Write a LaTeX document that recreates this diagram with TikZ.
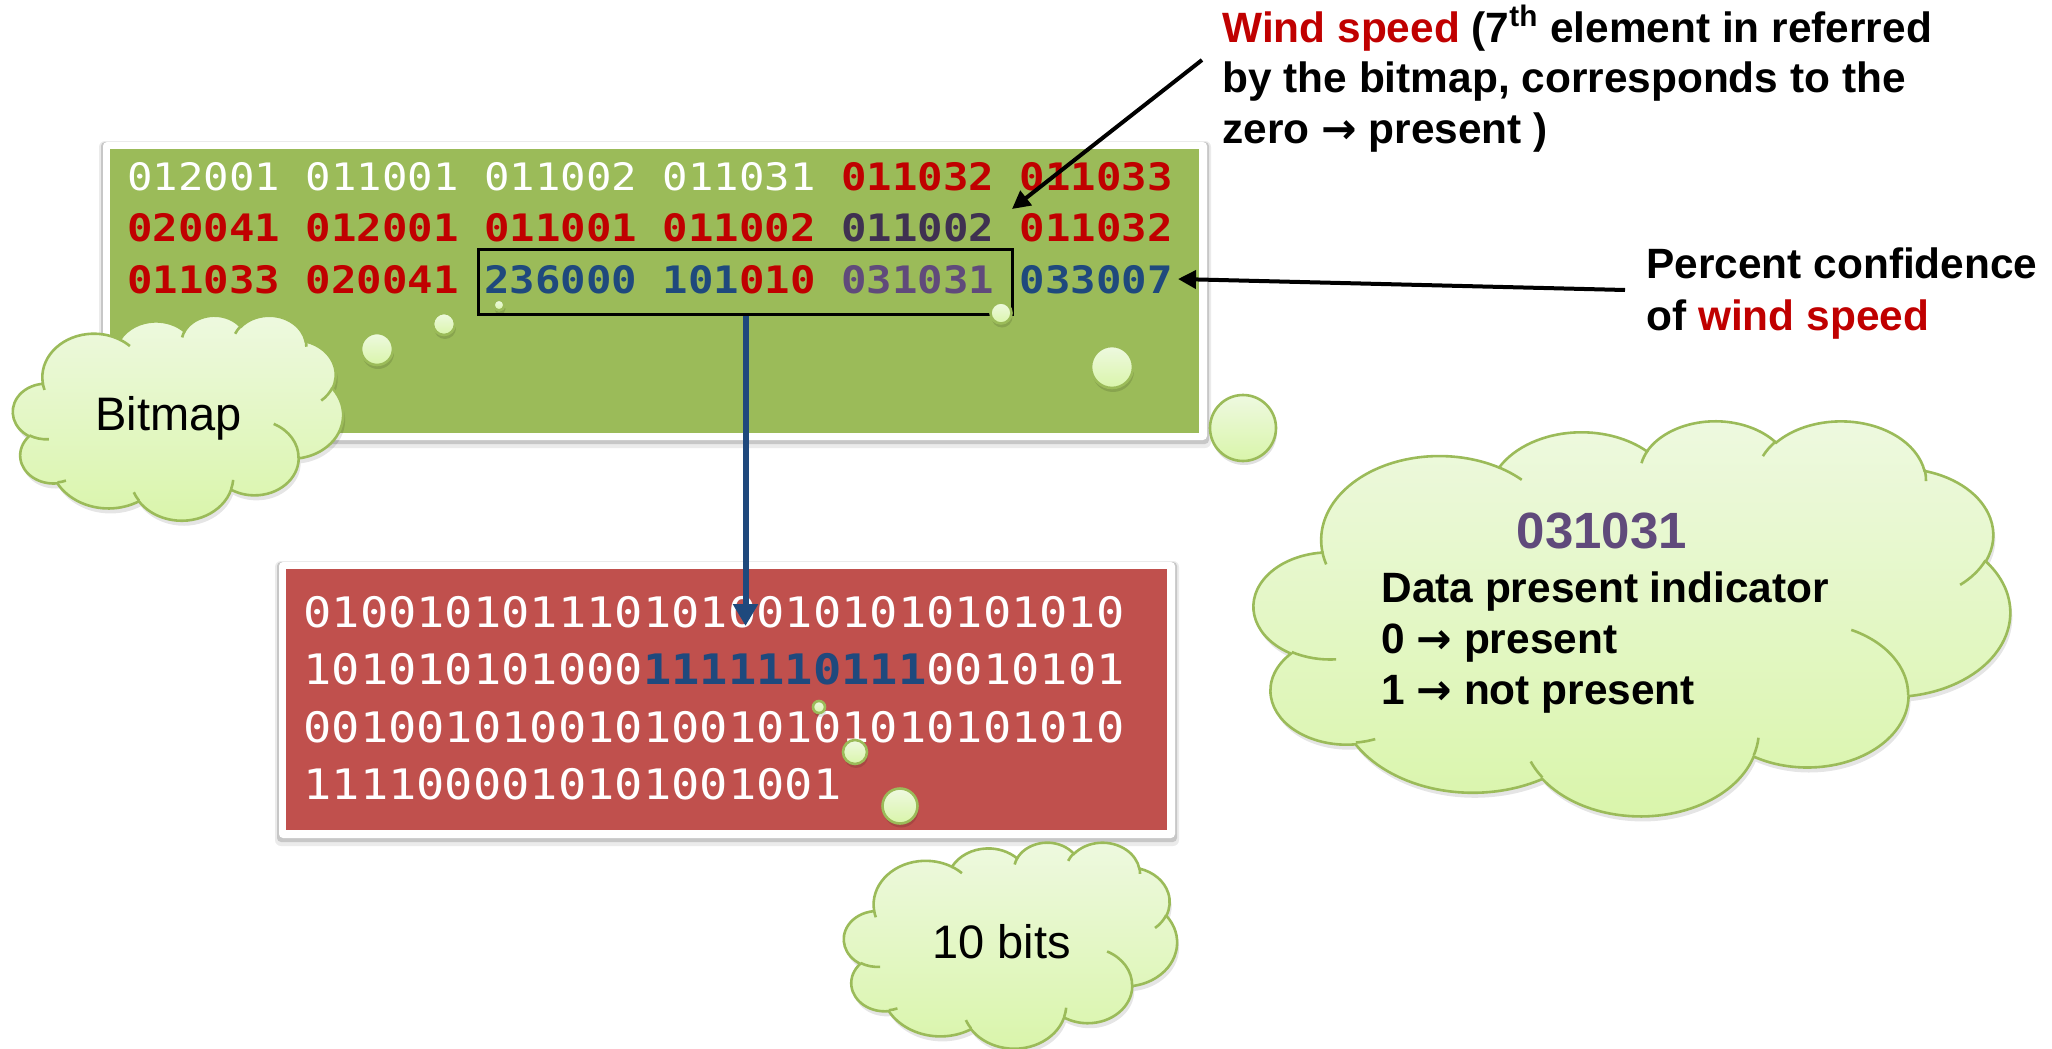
\documentclass[tikz,border=0pt]{standalone}
\usepackage{fontspec}
\setmainfont{Liberation Sans}
\newfontfamily\arrowfont{DejaVu Sans}
\newfontfamily\codefont[FakeStretch=1.12]{DejaVu Sans Mono}
\usetikzlibrary{arrows.meta}

\definecolor{boxgreen}{HTML}{9BBB59}
\definecolor{boxred}{HTML}{C0504D}
\definecolor{txtred}{HTML}{C00000}
\definecolor{txtblue}{HTML}{1F497D}
\definecolor{txtpurple}{HTML}{604A7B}
\definecolor{txtdark}{HTML}{3F3151}
\definecolor{cloudedge}{HTML}{9BBB59}
\definecolor{cloudtop}{HTML}{EEF9E0}
\definecolor{cloudbot}{HTML}{D9F5AA}

% elliptical arcs given by visual (ray) angles, converted to parametric ones
\tikzset{
  declare function={
    vis(\va,\vb,\vs)=atan2(\va*sin(\vs),\vb*cos(\vs));
    vdel(\va,\vb,\vs,\vw)=vis(\va,\vb,\vs+\vw)-vis(\va,\vb,\vs)
      -360*round((vis(\va,\vb,\vs+\vw)-vis(\va,\vb,\vs)-\vw)/360);
  },
  cloudbody/.style={top color=cloudtop, bottom color=cloudbot, draw=cloudedge, line width=1.3pt},
  cloudcrease/.style={draw=cloudedge, line width=1.3pt},
  gcode/.style={inner sep=0pt, anchor=base west, font=\codefont\fontsize{18.9}{22}\selectfont},
  rcode/.style={inner sep=0pt, anchor=base west, font=\codefont\fontsize{21}{24}\selectfont, text=white},
  lbl/.style={inner sep=0pt, anchor=base west, font=\fontsize{21.2}{25}\selectfont\bfseries},
  cloudlbl/.style={inner sep=0pt, anchor=base west, font=\fontsize{23.5}{28}\selectfont},
  blackarrow/.style={draw=black, line width=2pt, -{Triangle[length=9pt,width=9pt]}},
  bluearrow/.style={draw=txtblue, line width=3pt, -{Triangle[length=11pt,width=12pt]}},
}
\newcommand\carc[4]{arc[x radius=#1, y radius=#2, start angle={vis(#1,#2,#3)}, delta angle={vdel(#1,#2,#3,#4)}]}

% cloud outline in a 432 x 432 frame
\newcommand\cloudoutline{(39.00,143.70)
 \carc{67.53}{91.90}{-190.4875}{123.7805}
 \carc{53.33}{72.67}{-144.1024}{89.9452}
 \carc{43.65}{59.45}{-145.8079}{99.7230}
 \carc{48.57}{65.95}{-130.9861}{117.2417}
 \carc{53.33}{72.73}{-78.7089}{109.0269}
 \carc{67.75}{92.20}{-46.2673}{130.2690}
 \carc{57.85}{78.67}{0.6250}{114.0333}
 \carc{67.52}{92.15}{22.4516}{115.1726}
 \carc{77.20}{105.43}{66.2426}{75.7110}
 \carc{43.60}{59.18}{-274.9421}{146.7356}
 \carc{43.45}{59.45}{-246.8285}{152.5189}
 -- cycle}

% short inner creases of the cloud
\newcommand\cloudcreases{
 (46.93,261.77) \carc{43.45}{59.45}{86.7420}{26.4295}
 (69.28,348.99) \carc{43.60}{59.18}{73.6105}{11.4475}
 (164.78,390.90) \carc{67.52}{92.15}{137.6242}{14.0811}
 (288.27,347.51) \carc{67.52}{92.15}{6.4533}{15.9984}
 (341.29,229.54) \carc{57.85}{78.67}{-70.2924}{70.9174}
 (417.98,153.54) \carc{53.33}{72.73}{30.3180}{27.7515}
 (383.24,54.26) \carc{48.57}{65.95}{-13.7443}{14.8589}
 (290.78,39.52) \carc{48.57}{65.95}{-149.1815}{18.1954}
 (221.41,47.20) \carc{43.65}{59.45}{-163.4943}{17.6864}
 (140.00,51.92) \carc{67.53}{91.90}{-66.7070}{12.3194}
 (41.27,157.89) \carc{67.53}{91.90}{157.6544}{11.8582}
}

% #1 name, #2 left, #3 top, #4 width, #5 height
\newcommand\drawcloud[5]{%
  \begin{scope}[shift={(#2+2,#3+5)},xscale=#4/432,yscale=#5/432]
    \fill[black,opacity=0.10] \cloudoutline;
  \end{scope}
  \begin{scope}[shift={(#2,#3)},xscale=#4/432,yscale=#5/432]
    \path[cloudbody] \cloudoutline;
    \draw[cloudcrease] \cloudcreases;
  \end{scope}
  \coordinate (#1) at (#2+#4/2,#3+#5/2);
}

% small thought bubble: centre x, centre y, radius
\newcommand\bubble[3]{%
  \fill[black,opacity=0.12] (#1+1,#2+4) circle[radius=#3];
  \path[cloudbody] (#1,#2) circle[radius=#3];
}

\newcommand\toarrow{{\arrowfont\bfseries →}}

\begin{document}
\begin{tikzpicture}[x=0.5pt,y=-0.5pt]
\useasboundingbox (0,0) rectangle (2052,1049);
\fill[white] (0,0) rectangle (2052,1049);

% ---- descriptor list (green panel)
\fill[black,opacity=0.08,rounded corners=3pt] (99,141) rectangle (1211,448);
\fill[black,opacity=0.15,rounded corners=2pt] (101,142) rectangle (1209,444);
\fill[white,rounded corners=2pt] (103,142) rectangle (1207,440);
\fill[boxgreen] (110,149) rectangle (1199,433);

\node[gcode] (g11) at (127,190) {\color{white}012001};
\node[gcode] (g12) at (305.5,190) {\color{white}011001};
\node[gcode] (g13) at (484,190) {\color{white}011002};
\node[gcode] (g14) at (662.5,190) {\color{white}011031};
\node[gcode] (g15) at (841,190) {\bfseries\color{txtred}011032};
\node[gcode] (g16) at (1019.5,190) {\bfseries\color{txtred}011033};

\node[gcode] (g21) at (127,241) {\bfseries\color{txtred}020041};
\node[gcode] (g22) at (305.5,241) {\bfseries\color{txtred}012001};
\node[gcode] (g23) at (484,241) {\bfseries\color{txtred}011001};
\node[gcode] (g24) at (662.5,241) {\bfseries\color{txtred}011002};
\node[gcode] (g25) at (841,241) {\bfseries\color{txtdark}011002};
\node[gcode] (g26) at (1019.5,241) {\bfseries\color{txtred}011032};

\node[gcode] (g31) at (127,293) {\bfseries\color{txtred}011033};
\node[gcode] (g32) at (305.5,293) {\bfseries\color{txtred}020041};
\node[gcode] (g33) at (484,293) {\bfseries\color{txtblue}236000};
\node[gcode] (g34) at (662.5,293) {\bfseries\textcolor{txtblue}{101}\textcolor{txtred}{010}};
\node[gcode] (g35) at (841,293) {\bfseries\color{txtpurple}031031};
\node[gcode] (g36) at (1019.5,293) {\bfseries\color{txtblue}033007};

\node[draw=black, line width=1.5pt, inner sep=0pt, minimum width=267pt, minimum height=32.5pt, anchor=north west] (selbox) at (477,248) {};

% ---- bit stream (red panel)
\fill[black,opacity=0.08,rounded corners=3pt] (275,561) rectangle (1179,846);
\fill[black,opacity=0.15,rounded corners=2pt] (277,562) rectangle (1177,842);
\fill[white,rounded corners=2pt] (279,562) rectangle (1175,838);
\fill[boxred] (286,569) rectangle (1167,830);

\node[rcode] (r1) at (303,627) {01001010111010100101010101010};
\node[rcode] (r2) at (303,684) {101010101000{\bfseries\color{txtblue}1111110111}0010101};
\node[rcode] (r3) at (303,742) {00100101001010010101010101010};
\node[rcode] (r4) at (303,799) {1111000010101001001};

\coordinate (bittip) at (743,626);
\draw[bluearrow] (selbox.south) -- (selbox.south |- bittip);

% ---- side notes
\node[lbl] (w1) at (1222,42) {\textcolor{txtred}{Wind speed} (7\textsuperscript{th} element in referred};
\node[lbl] (w2) at (1222,92) {by the bitmap, corresponds to the};
\node[lbl] (w3) at (1222,143) {zero \toarrow{} present )};

\node[lbl] (p1) at (1646,278) {Percent confidence};
\node[lbl] (p2) at (1646,330) {of \textcolor{txtred}{wind speed}};

\coordinate (windtail) at (1202,60);
\coordinate (windtip) at (1012,209);
\draw[blackarrow] (windtail) -- (windtip);

\coordinate (pcttail) at (1625,290);
\coordinate (pcttip) at (1178,279);
\draw[blackarrow] (pcttail) -- (pcttip);

% ---- callout bubbles
\bubble{377}{349}{16}
\bubble{444}{324}{11}
\bubble{499}{305}{5.5}

\bubble{1001}{313}{10.5}
\bubble{1112}{367}{21}
\bubble{1243}{428}{33}

\bubble{819}{707}{6}
\bubble{855}{752}{12}
\bubble{900}{806}{17.5}

% ---- clouds
\drawcloud{bitmapcloud}{13}{315}{330}{205}
\node[cloudlbl] (bitmaplbl) at (95,430) {Bitmap};

\drawcloud{bitscloud}{844}{842}{333}{206}
\node[cloudlbl] (bitslbl) at (932,958) {10 bits};

\drawcloud{dpicloud}{1254}{420}{756}{395}
\node[inner sep=0pt, anchor=base, font=\fontsize{25.5}{30}\selectfont\bfseries, text=txtpurple] (d0) at (1602,548) {031031};
\node[lbl] (d1) at (1381,602) {Data present indicator};
\node[lbl] (d2) at (1381,653) {0 \toarrow{} present};
\node[lbl] (d3) at (1381,704) {1 \toarrow{} not present};
\end{tikzpicture}
\end{document}
